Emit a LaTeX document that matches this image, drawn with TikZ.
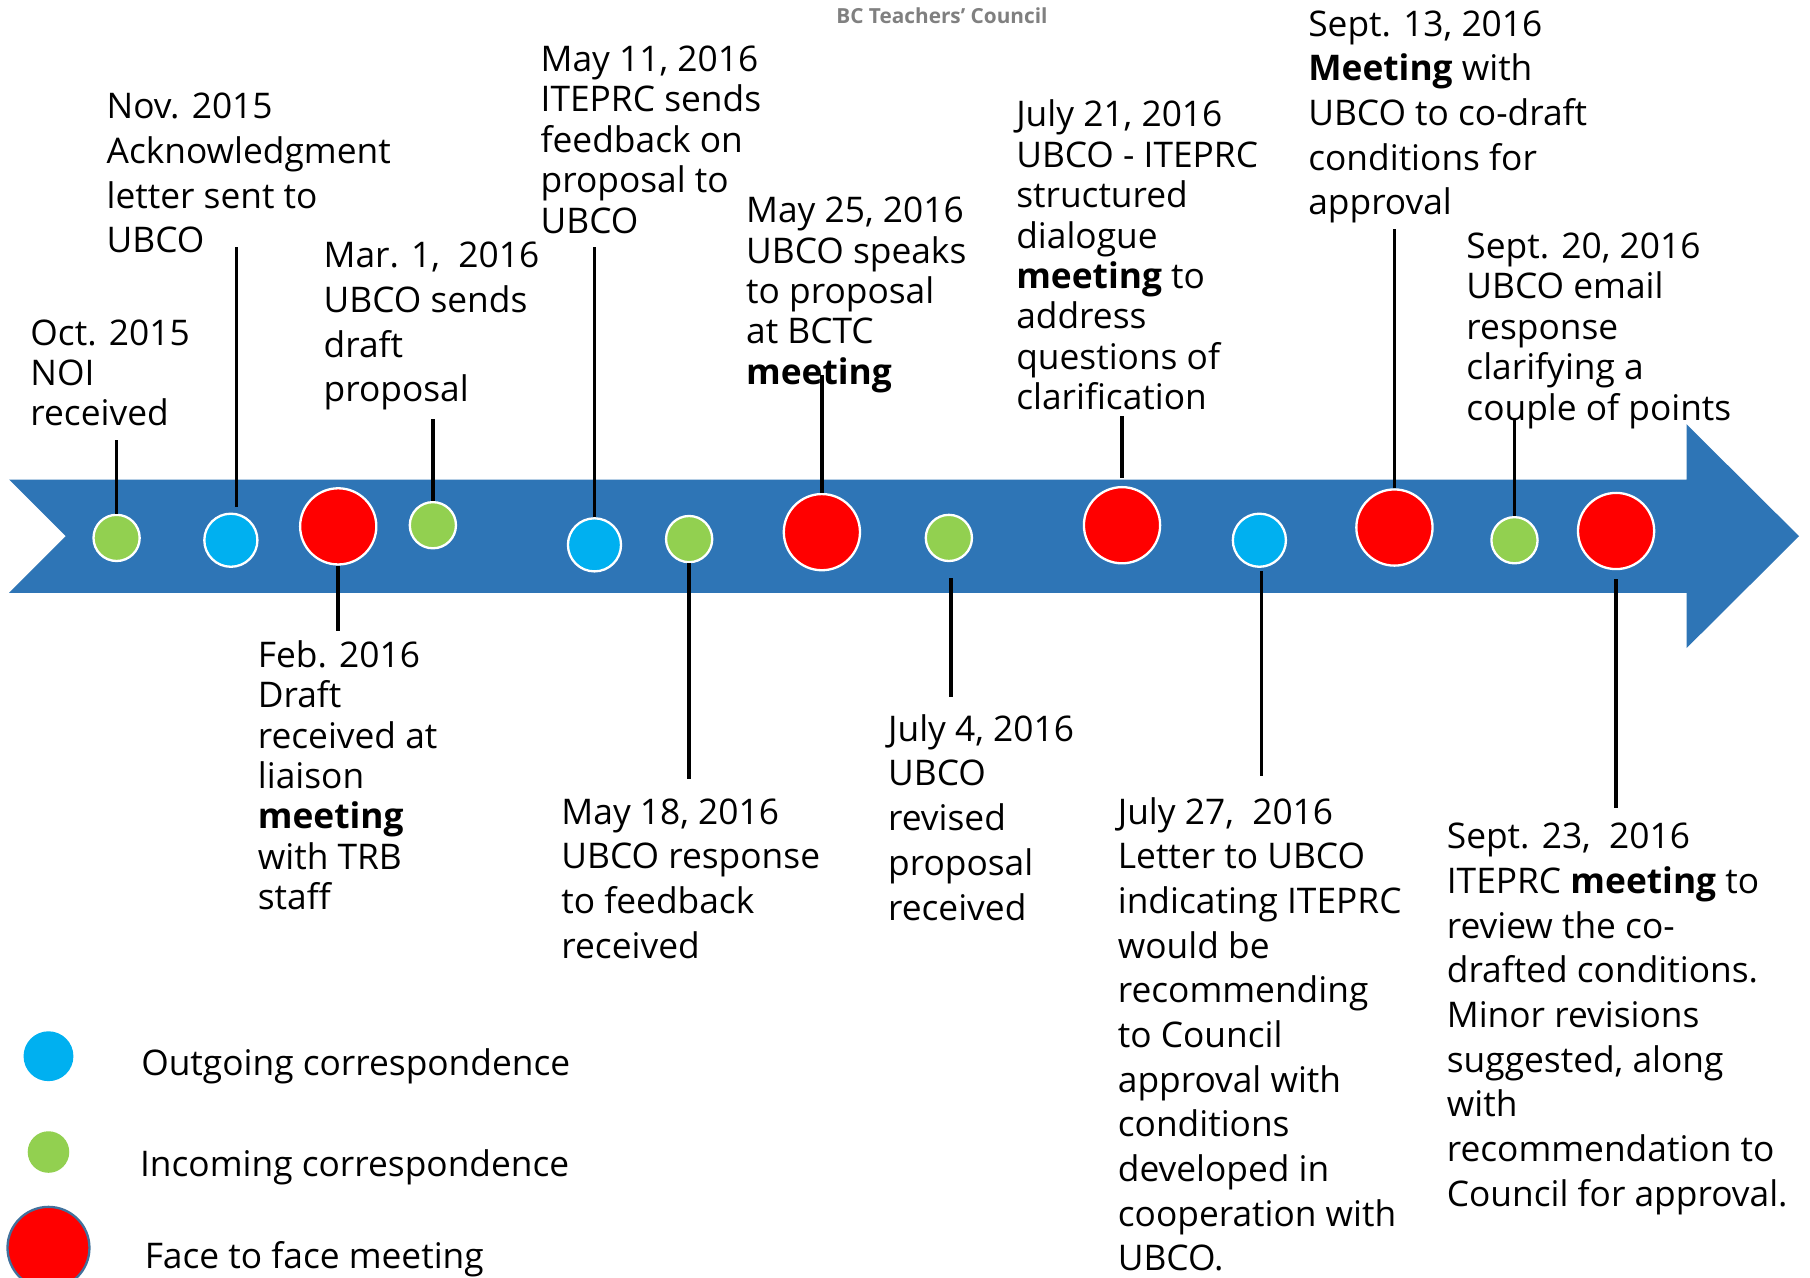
\documentclass[tikz,border=0pt]{standalone}
\usepackage{fontspec}
\setmainfont{Open Sans}
\definecolor{arrowblue}{RGB}{46,117,182}
\definecolor{outblue}{RGB}{0,176,240}
\definecolor{ingreen}{RGB}{146,208,80}
\definecolor{meetred}{RGB}{255,0,0}
\definecolor{legedge}{RGB}{65,113,156}
\definecolor{hdrgray}{RGB}{128,128,128}
\begin{document}
\begin{tikzpicture}[x=0.5pt,y=-0.5pt,
  lbl/.style={anchor=base west, inner sep=0pt, align=left, font=\fontsize{15.3pt}{17.5pt}\selectfont},
  lblw/.style={lbl, font=\fontsize{15.3pt}{19.35pt}\selectfont},
  dot/.style={circle, inner sep=0pt, draw=white, line width=1pt},
  gdot/.style={dot, fill=ingreen, minimum size=20pt},
  bdot/.style={dot, fill=outblue, minimum size=23pt},
  rdot/.style={dot, fill=meetred, minimum size=33pt},
  conn/.style={draw=black, line width=1.5pt}]
\useasboundingbox (0,0) rectangle (1568,1107);

% header
\node[font=\bfseries\fontsize{9pt}{10pt}\selectfont, text=hdrgray, inner sep=0pt] (hdr) at (816,14) {BC Teachers’ Council};

% timeline arrow
\fill[arrowblue] (8,415.5) -- (1461,415.5) -- (1461,367.5) -- (1558.5,464.5)
  -- (1461,561.5) -- (1461,513.5) -- (8,513.5) -- (57,464.5) -- cycle;

% event dots
\node[gdot] (c1) at (101,466) {};
\node[bdot] (c2) at (200,468) {};
\node[rdot] (c3) at (293,456) {};
\node[gdot] (c4) at (375,455) {};
\node[bdot] (c5) at (515,472) {};
\node[gdot] (c6) at (597,467) {};
\node[rdot] (c7) at (712,461) {};
\node[gdot] (c8) at (822,466) {};
\node[rdot] (c9) at (972,455) {};
\node[bdot] (c10) at (1091,468) {};
\node[rdot] (c11) at (1208,457) {};
\node[gdot] (c12) at (1312,468) {};
\node[rdot] (c13) at (1400,460) {};

% labels (anchor = baseline of last line)
\node[lbl] (l1) at (26,369) {Oct. 2015\\NOI\\received};
\node[lblw] (l2) at (92,219) {Nov. 2015\\Acknowledgment\\letter sent to\\UBCO};
\node[lbl] (l3) at (223,788) {Feb. 2016\\Draft\\received at\\liaison\\\textbf{meeting}\\with TRB\\staff};
\node[lblw] (l4) at (280,348) {Mar. 1,~~2016\\UBCO sends\\draft\\proposal};
\node[lbl] (l5) at (468,202) {May 11, 2016\\ITEPRC sends\\feedback on\\proposal to\\UBCO};
\node[lblw] (l6) at (486,830) {May 18, 2016\\UBCO response\\to feedback\\received};
\node[lbl] (l7) at (646,333) {May 25, 2016\\UBCO speaks\\to proposal\\at BCTC\\\textbf{meeting}};
\node[lblw] (l8) at (769,797) {July 4, 2016\\UBCO\\revised\\proposal\\received};
\node[lbl] (l9) at (880,355) {July 21, 2016\\UBCO - ITEPRC\\structured\\dialogue\\\textbf{meeting} to\\address\\questions of\\clarification};
\node[lblw] (l10) at (968,1101) {July 27,~~2016\\Letter to UBCO\\indicating ITEPRC\\would be\\recommending\\to Council\\approval with\\conditions\\developed in\\cooperation with\\UBCO.};
\node[lblw] (l11) at (1133,186) {Sept. 13, 2016\\\textbf{Meeting} with\\UBCO to co-draft\\conditions for\\approval};
\node[lbl] (l12) at (1270,364) {Sept. 20, 2016\\UBCO email\\response\\clarifying a\\couple of points};
\node[lblw] (l13) at (1253,1045) {Sept. 23,~~2016\\ITEPRC \textbf{meeting} to\\review the co-\\drafted conditions.\\Minor revisions\\suggested, along\\with\\recommendation to\\Council for approval.};

% connector ends
\coordinate (t1) at (101,381);
\coordinate (t2) at (205,214);
\coordinate (t3) at (293,547);
\coordinate (t4) at (375,363);
\coordinate (t5) at (515,214);
\coordinate (t6) at (597,675);
\coordinate (t7) at (712,325);
\coordinate (t8) at (824,604);
\coordinate (t9) at (972,360);
\coordinate (t10) at (1093,672);
\coordinate (t11) at (1208,198);
\coordinate (t12) at (1312,364);
\coordinate (t13) at (1400,700);

% connectors
\draw[conn] (c1.north) -- (t1);
\draw[conn, shorten <=2.5pt] (c2.north -| t2) -- (t2);
\draw[conn] (c3.south) -- (t3);
\draw[conn] (c4.north) -- (t4);
\draw[conn] (c5.north) -- (t5);
\draw[conn] (c6.south) -- (t6);
\draw[conn] (c7.north) -- (t7);
\draw[conn, shorten <=7pt] (c8.south -| t8) -- (t8);
\draw[conn, shorten <=3.5pt] (c9.north) -- (t9);
\draw[conn, shorten <=1.5pt] (c10.south -| t10) -- (t10);
\draw[conn] (c11.north) -- (t11);
\draw[conn] (c12.north) -- (t12);
\draw[conn, shorten <=4pt] (c13.south) -- (t13);

% legend
\node[circle, inner sep=0pt, fill=outblue, minimum size=21.6pt] (kb) at (42,915) {};
\node[circle, inner sep=0pt, fill=ingreen, minimum size=18pt] (kg) at (42,998) {};
\node[circle, inner sep=0pt, fill=meetred, draw=legedge, line width=1pt, minimum size=35.5pt] (kr) at (42,1081) {};
\node[lbl] (kbt) at (122,932) {Outgoing correspondence};
\node[lbl] (kgt) at (121,1019) {Incoming correspondence};
\node[lbl] (krt) at (125,1099) {Face to face meeting};
\end{tikzpicture}
\end{document}
